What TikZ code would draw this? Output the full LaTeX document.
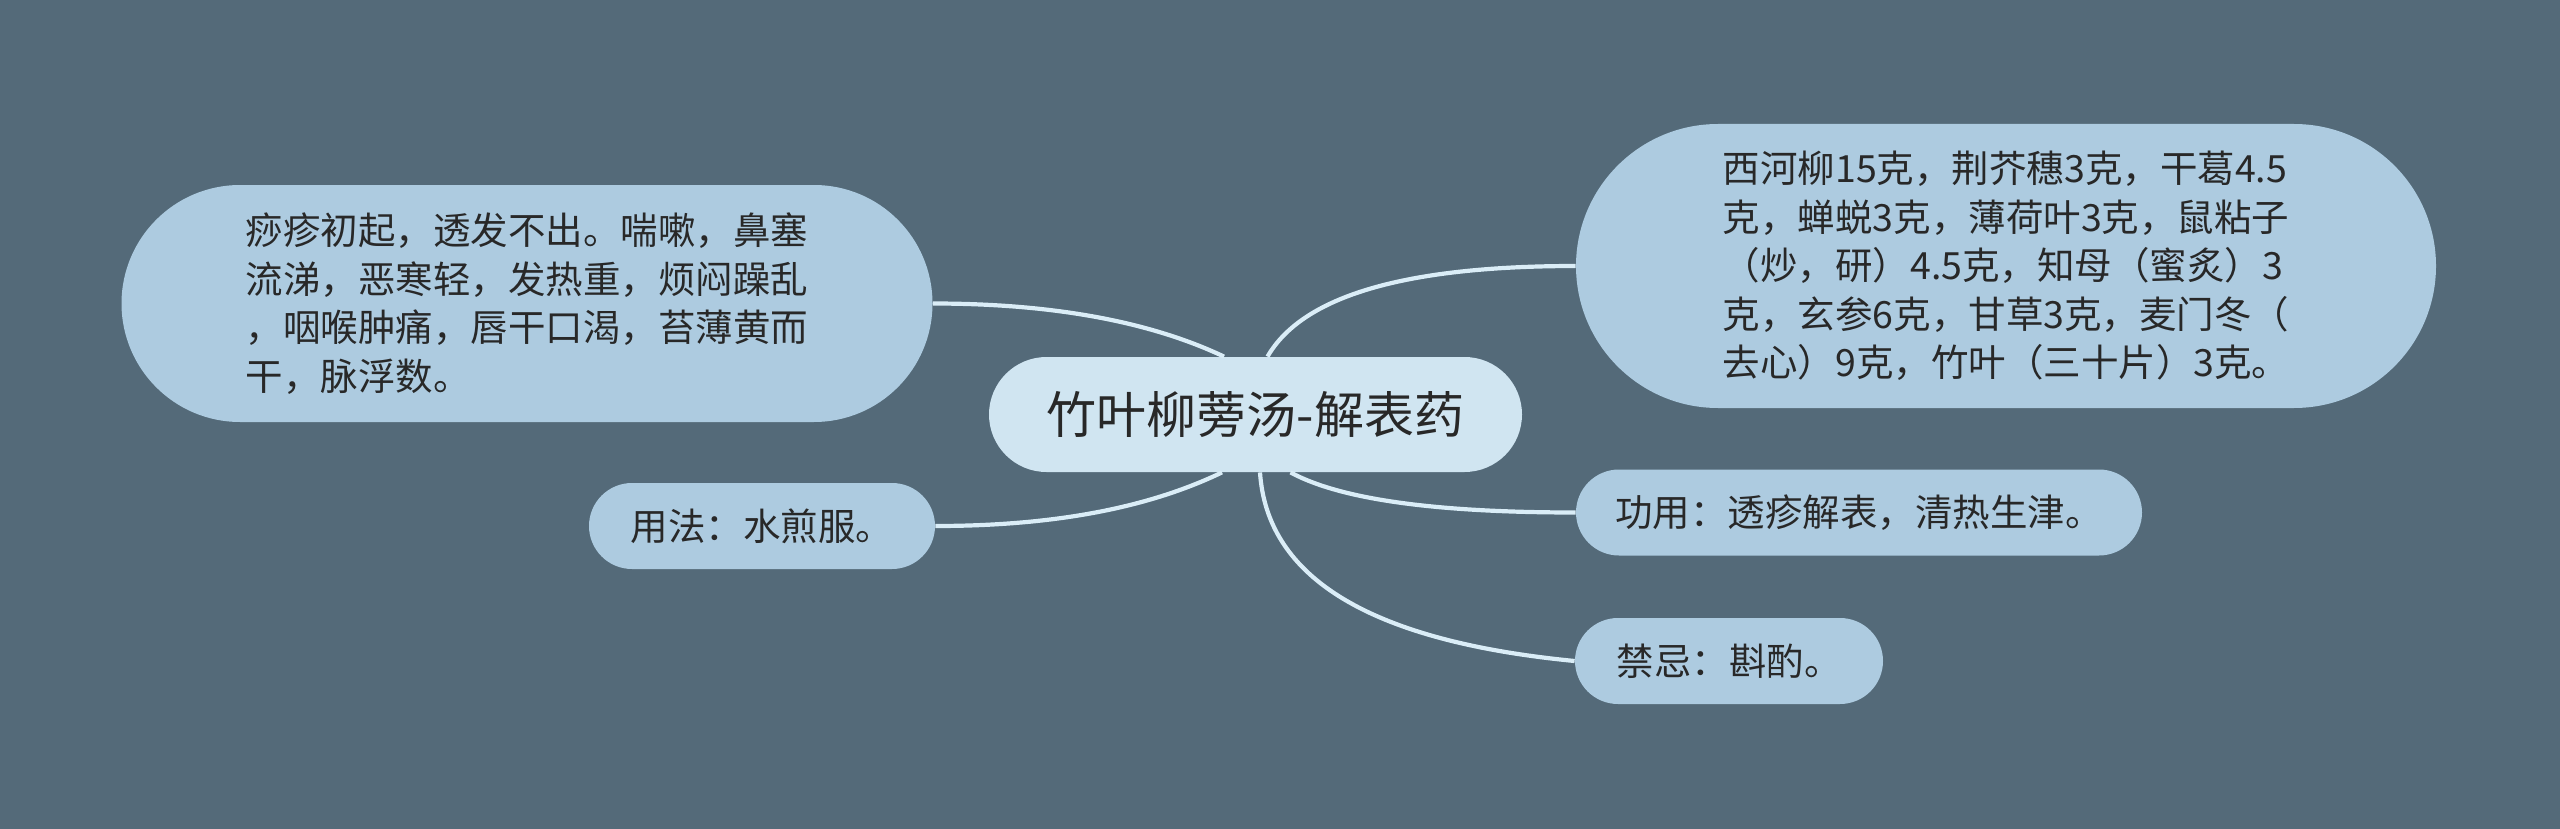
\documentclass[tikz,border=0pt]{standalone}
\usepackage{fontspec}
\newfontfamily\cjk{Noto Sans CJK SC}
\usetikzlibrary{calc}
\definecolor{bgc}{RGB}{84,106,121}
\definecolor{nodefill}{RGB}{173,203,224}
\definecolor{rootfill}{RGB}{208,229,241}
\definecolor{linkc}{RGB}{218,237,247}
\definecolor{txt}{RGB}{40,40,40}
\tikzset{
  mm/.style={fill=nodefill, text=txt, inner sep=0pt, align=left,
    font=\cjk\fontsize{18.75}{24.25}\selectfont},
  rootbox/.style={fill=rootfill, text=txt, inner sep=0pt, align=center,
    font=\cjk\fontsize{25}{30}\selectfont},
  link/.style={draw=linkc, line width=2.1pt},
}
\begin{document}
\begin{tikzpicture}[x=0.5pt,y=-0.5pt]
\path[fill=bgc] (0,0) rectangle (2560,829);
\useasboundingbox (0,0) rectangle (2560,829);

\node[rootbox, minimum width=266.5pt, minimum height=57.5pt, rounded corners=28.75pt] (c) at (1255.5,414.5) {竹叶柳蒡汤-解表药};

\node[mm, minimum width=405.5pt, minimum height=118.5pt, rounded corners=59.25pt] (n1) at (527,303.5)
  {痧疹初起，透发不出。喘嗽，鼻塞\\流涕，恶寒轻，发热重，烦闷躁乱\\，咽喉肿痛，唇干口渴，苔薄黄而\\干，脉浮数。};

\node[mm, minimum width=430pt, minimum height=142pt, rounded corners=71pt] (n2) at (2006,266)
  {西河柳15克，荆芥穗3克，干葛4.5\\克，蝉蜕3克，薄荷叶3克，鼠粘子\\（炒，研）4.5克，知母（蜜炙）3\\克，玄参6克，甘草3克，麦门冬（\\去心）9克，竹叶（三十片）3克。};

\node[mm, minimum width=173pt, minimum height=43pt, rounded corners=21.5pt] (n3) at (762,526) {用法：水煎服。};

\node[mm, minimum width=283pt, minimum height=43pt, rounded corners=21.5pt] (n4) at (1859,512.5) {功用：透疹解表，清热生津。};

\node[mm, minimum width=154pt, minimum height=43pt, rounded corners=21.5pt] (n5) at (1729,661) {禁忌：斟酌。};

\coordinate (c1) at ($(c.north)+(-31.5,0)$);
\coordinate (c2) at ($(c.north)+(12,0)$);
\coordinate (c3) at ($(c.south)+(-33.5,0)$);
\coordinate (c4) at ($(c.south)+(35,0)$);
\coordinate (c5) at ($(c.south)+(4.5,0)$);

\draw[link] (n1.east) .. controls +(116.7,0) and +(-76,-36) .. (c1);
\draw[link] (n3.east) .. controls +(116.7,0) and +(-74.7,36) .. (c3);
\draw[link] (c2) .. controls +(35,-60.7) and +(-170.7,0) .. (n2.west);
\draw[link] (c4) .. controls +(49.7,27) and +(-140.7,0) .. (n4.west);
\draw[link] (c5) .. controls +(7,106.3) and +(-203,-19.7) .. (n5.west);
\end{tikzpicture}
\end{document}
